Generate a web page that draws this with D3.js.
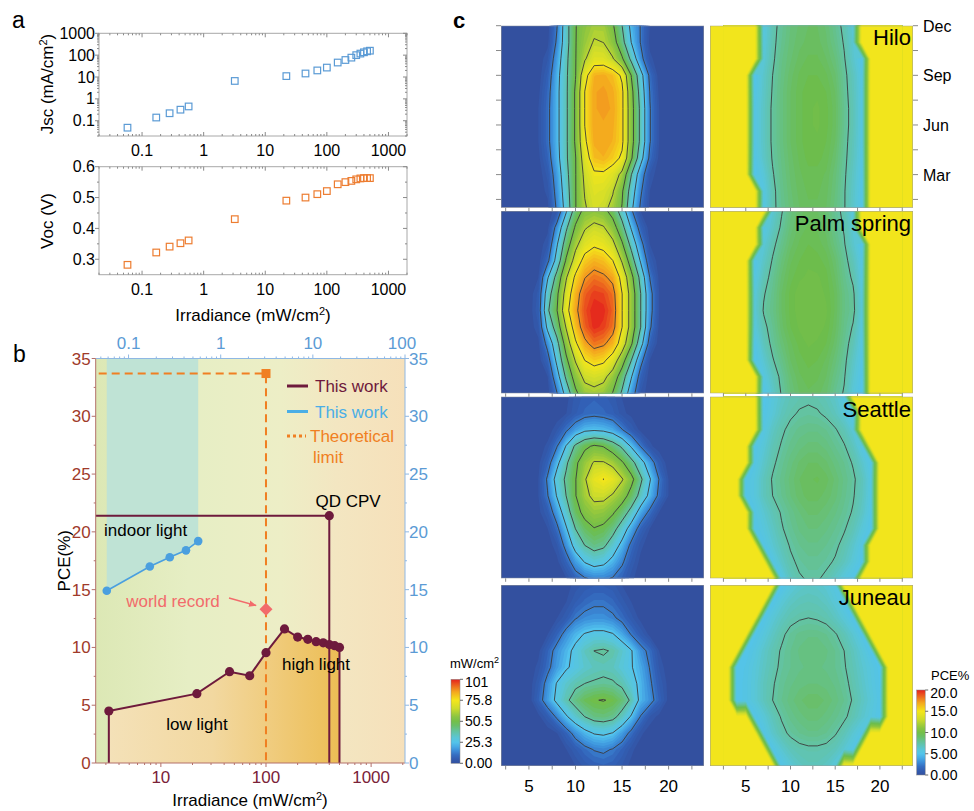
<!DOCTYPE html>
<html><head><meta charset="utf-8">
<script src="https://cdn.jsdelivr.net/npm/d3@7"></script>
<style>body{margin:0;background:#fff}svg{display:block}text{font-family:"Liberation Sans",Arial,Helvetica,sans-serif}</style>
</head><body><svg id="c" width="974" height="811"></svg>
<script>
// ================= DATA =================
// panel a
const irrA = [0.058,0.17,0.28,0.42,0.57,3.2,22,45,70,100,150,200,250,300,350,400,450,500];
const jscA = [0.048,0.14,0.22,0.32,0.45,6.6,11,14.5,20,27,46,60,77,100,118,135,150,160];
const vocA = [0.282,0.322,0.341,0.352,0.361,0.430,0.490,0.500,0.511,0.521,0.543,0.550,0.554,0.559,0.562,0.563,0.563,0.563];
const aXTicks = [0.1,1,10,100,1000];
const aJTicks = [0.1,1,10,100,1000];
const aVTicks = [0.3,0.4,0.5,0.6];
// panel b
const irrHigh = [3.2,22,45,70,100,150,200,250,300,350,400,450,500];
const pceHigh = [4.5,6.0,7.9,7.55,9.55,11.6,10.9,10.7,10.5,10.4,10.25,10.15,10.0];
const irrIndoor = [0.058,0.17,0.28,0.42,0.57];
const pceIndoor = [14.9,17.0,17.8,18.4,19.2];
const cpvPoint = [400,21.4];
const theoPoint = [100,33.7];
const recordPoint = [100,13.3];
const bBottomTicks = [10,100,1000];
const bTopTicks = [0.1,1,10,100];
const bYTicks = [0,5,10,15,20,25,30,35];
// panel c : rows = months Jan..Dec, columns = hours
const cHours = [3,4,5,6,7,8,9,10,11,12,13,14,15,16,17,18,19,20,21,22];
const cMonths = [1,2,3,4,5,6,7,8,9,10,11,12];
const monthTicks = [[3,"Mar"],[6,"Jun"],[9,"Sep"],[12,"Dec"]];
const hourTicks = [5,10,15,20];
const cities = ["Hilo","Palm spring","Seattle","Juneau"];
const hiloIrr = [
[0,0,0,0,1,14,30,50,62,68,66,60,50,28,11,1,0,0,0,0],
[0,0,0,0,3,16,32,50,64,70,69,64,52,32,14,2,0,0,0,0],
[0,0,0,0,5,18,34,50,66,74,74,70,60,38,18,4,0,0,0,0],
[0,0,0,1,8,21,36,50,70,82,84,80,74,52,30,10,1,0,0,0],
[0,0,0,2,10,22,36,52,74,85,86,84,78,55,35,13,2,0,0,0],
[0,0,0,2,10,22,36,52,76,86,86,85,78,55,35,13,2,0,0,0],
[0,0,0,2,10,22,36,52,76,86,87,86,78,55,35,13,2,0,0,0],
[0,0,0,1,9,22,36,52,76,86,87,85,78,54,33,12,1,0,0,0],
[0,0,0,0,7,21,36,50,72,84,85,82,74,50,30,10,0,0,0,0],
[0,0,0,0,4,18,35,50,62,70,70,64,52,35,16,3,0,0,0,0],
[0,0,0,0,1,14,33,50,58,64,63,56,42,25,12,1,0,0,0,0],
[0,0,0,0,0,12,33,50,56,60,60,52,38,22,12,2,0,0,0,0]];
const psIrr = [
[0,0,0,0,0,12,30,48,58,60,58,50,36,18,4,0,0,0,0,0],
[0,0,0,0,2,20,40,56,66,68,66,58,44,26,8,0,0,0,0,0],
[0,0,0,0,8,28,48,64,76,80,78,70,56,38,16,2,0,0,0,0],
[0,0,0,1,16,34,56,74,86,92,90,84,70,52,30,8,0,0,0,0],
[0,0,0,4,28,44,64,82,94,100,98,92,76,58,38,14,1,0,0,0],
[0,0,0,6,36,50,72,86,96,101,100,94,76,58,38,16,2,0,0,0],
[0,0,0,5,32,48,68,84,94,98,97,92,76,58,38,16,2,0,0,0],
[0,0,0,2,24,42,62,78,88,92,90,86,72,54,34,12,1,0,0,0],
[0,0,0,0,10,30,52,68,80,84,82,76,62,44,24,6,0,0,0,0],
[0,0,0,0,4,24,44,60,70,74,72,66,52,34,16,2,0,0,0,0],
[0,0,0,0,1,16,36,52,62,66,64,56,42,24,8,0,0,0,0,0],
[0,0,0,0,0,4,24,44,54,56,54,46,32,14,2,0,0,0,0,0]];
const seaIrr = [
[0,0,0,0,0,0,2,8,12,14,14,12,8,3,0,0,0,0,0,0],
[0,0,0,0,0,1,8,18,26,30,28,22,14,6,1,0,0,0,0,0],
[0,0,0,0,0,4,16,30,38,42,40,32,22,10,3,0,0,0,0,0],
[0,0,0,0,2,10,24,38,46,50,48,42,32,20,8,2,0,0,0,0],
[0,0,0,1,6,18,32,46,54,58,57,52,44,34,20,10,2,0,0,0],
[0,0,0,2,12,26,38,50,60,66,66,62,56,46,34,22,10,2,0,0],
[0,0,0,2,14,30,40,50,62,72,76,72,64,54,40,26,12,2,0,0],
[0,0,0,1,8,22,36,48,58,64,64,60,52,42,30,18,6,0,0,0],
[0,0,0,0,3,12,26,40,48,52,50,44,36,24,12,3,0,0,0,0],
[0,0,0,0,0,4,11,18,23,24,23,20,13,6,1,0,0,0,0,0],
[0,0,0,0,0,0,2,6,9,10,9,7,3,1,0,0,0,0,0,0],
[0,0,0,0,0,0,1,5,7,8,7,5,2,0,0,0,0,0,0,0]];
const junIrr = [
[0,0,0,0,0,0,0,2,5,7,8,7,4,1,0,0,0,0,0,0],
[0,0,0,0,0,0,2,6,10,13,14,12,8,3,0,0,0,0,0,0],
[0,0,0,0,0,2,8,16,22,26,27,25,18,10,3,0,0,0,0,0],
[0,0,0,1,6,14,24,32,38,42,43,41,34,24,12,4,1,0,0,0],
[0,0,0,8,18,28,36,42,47,50,51,49,44,36,22,16,8,1,0,0],
[0,0,0,6,16,26,32,36,38,39,40,39,36,30,22,14,6,1,0,0],
[0,0,0,3,10,18,24,28,32,34,35,34,30,26,20,12,4,0,0,0],
[0,0,0,1,8,16,22,28,34,38,39,37,32,26,16,10,2,0,0,0],
[0,0,0,0,2,8,16,22,26,28,28,26,20,12,6,1,0,0,0,0],
[0,0,0,0,0,2,6,12,15,16,16,14,10,5,1,0,0,0,0,0],
[0,0,0,0,0,0,2,6,9,11,11,9,5,2,0,0,0,0,0,0],
[0,0,0,0,0,0,1,3,5,6,6,5,2,0,0,0,0,0,0,0]];
const N = null; // no generation (night)
const hiloPce = [
[N,N,N,N,5.5,7.2,8.0,8.6,9.0,9.2,9.2,9.0,8.4,7.6,6.4,5.2,N,N,N,N],
[N,N,N,N,5.6,7.2,8.1,8.7,9.1,9.3,9.3,9.1,8.5,7.6,6.5,5.3,N,N,N,N],
[N,N,N,5.0,6.0,7.4,8.2,8.8,9.2,9.4,9.4,9.2,8.6,7.7,6.6,5.4,N,N,N,N],
[N,N,N,5.2,6.5,7.6,8.3,8.9,9.3,9.6,9.6,9.4,8.8,7.8,6.8,5.5,N,N,N,N],
[N,N,N,5.4,6.6,7.7,8.4,9.0,9.4,9.7,9.7,9.5,9.0,7.9,6.9,5.6,N,N,N,N],
[N,N,N,5.4,6.6,7.7,8.4,9.0,9.4,9.7,9.8,9.6,9.1,8.0,7.0,5.6,N,N,N,N],
[N,N,N,5.4,6.6,7.7,8.4,9.0,9.4,9.7,9.8,9.6,9.1,8.0,7.0,5.6,N,N,N,N],
[N,N,N,5.2,6.5,7.6,8.4,9.0,9.4,9.7,9.7,9.5,9.0,7.9,6.9,5.6,N,N,N,N],
[N,N,N,5.0,6.4,7.5,8.3,8.9,9.3,9.5,9.5,9.3,8.8,7.8,6.8,5.5,N,N,N,N],
[N,N,N,N,6.0,7.3,8.2,8.7,9.1,9.3,9.3,9.0,8.5,7.6,6.4,5.2,N,N,N,N],
[N,N,N,N,5.8,7.2,8.0,8.6,8.9,9.1,9.1,8.8,8.2,7.4,6.2,N,N,N,N,N],
[N,N,N,N,5.6,7.1,7.9,8.5,8.8,9.0,9.0,8.7,8.0,7.2,6.0,N,N,N,N,N]];
const psPce = [
[N,N,N,N,5.2,6.4,7.6,8.5,9.0,9.2,9.1,8.8,8.0,7.4,6.0,5.0,N,N,N,N],
[N,N,N,N,5.6,6.8,7.8,8.7,9.2,9.4,9.3,9.0,8.3,7.6,6.3,5.2,N,N,N,N],
[N,N,N,5.0,6.2,7.4,8.2,9.0,9.4,9.6,9.5,9.2,8.6,7.8,6.6,5.4,N,N,N,N],
[N,N,N,5.3,6.8,7.8,8.6,9.2,9.6,9.8,9.7,9.5,8.9,8.0,7.0,5.6,N,N,N,N],
[N,N,N,5.8,7.2,8.0,8.9,9.5,9.8,9.9,9.9,9.7,9.1,8.2,7.4,5.8,N,N,N,N],
[N,N,N,6.0,7.6,8.2,9.0,9.6,9.9,9.9,9.9,9.8,9.2,8.3,7.8,6.0,N,N,N,N],
[N,N,N,5.9,7.4,8.1,9.0,9.6,9.9,9.9,9.9,9.7,9.2,8.3,7.7,5.9,N,N,N,N],
[N,N,N,5.5,7.0,7.9,8.8,9.4,9.7,9.8,9.8,9.6,9.0,8.1,7.3,5.7,N,N,N,N],
[N,N,N,5.2,6.5,7.6,8.5,9.2,9.5,9.7,9.6,9.4,8.8,7.9,6.9,5.5,N,N,N,N],
[N,N,N,N,6.0,7.2,8.1,8.9,9.3,9.5,9.4,9.1,8.4,7.6,6.4,5.2,N,N,N,N],
[N,N,N,N,5.4,6.6,7.7,8.6,9.1,9.3,9.2,8.9,8.1,7.4,6.1,N,N,N,N,N],
[N,N,N,N,N,6.2,7.4,8.4,8.9,9.1,9.0,8.7,7.9,7.2,5.8,N,N,N,N,N]];
const seaPce = [
[N,N,N,N,N,N,5.5,6.8,7.4,7.6,7.6,7.3,6.6,5.8,5.2,N,N,N,N,N],
[N,N,N,N,N,5.4,6.5,7.3,7.7,7.9,7.9,7.7,7.4,6.8,6.0,5.2,N,N,N,N],
[N,N,N,N,5.3,6.2,7.0,7.6,8.0,8.2,8.2,8.0,7.7,7.2,6.4,5.4,N,N,N,N],
[N,N,N,5.2,5.8,6.6,7.4,7.9,8.3,8.5,8.5,8.3,8.0,7.6,7.0,6.0,5.2,N,N,N],
[N,N,N,5.4,6.2,7.0,7.6,8.1,8.5,8.8,8.8,8.6,8.3,7.9,7.4,6.6,5.4,N,N,N],
[N,N,5.2,5.8,6.8,7.5,8.0,8.5,8.9,9.1,9.1,8.9,8.6,8.1,7.6,6.8,5.6,N,N,N],
[N,N,5.2,5.8,6.8,7.6,8.1,8.6,9.0,9.2,9.3,9.1,8.7,8.2,7.7,6.9,5.6,N,N,N],
[N,N,N,5.4,6.4,7.3,7.9,8.4,8.8,9.0,9.0,8.8,8.4,8.0,7.4,6.4,5.3,N,N,N],
[N,N,N,5.2,6.0,7.0,7.6,8.1,8.4,8.6,8.6,8.4,8.0,7.6,6.8,5.5,N,N,N,N],
[N,N,N,N,5.5,6.6,7.3,7.8,8.1,8.2,8.2,8.0,7.6,7.0,6.0,N,N,N,N,N],
[N,N,N,N,5.2,6.0,6.8,7.3,7.6,7.7,7.6,7.3,6.8,6.0,5.2,N,N,N,N,N],
[N,N,N,N,5.0,5.8,6.5,7.0,7.2,7.3,7.2,6.9,6.4,5.6,N,N,N,N,N,N]];
const junPce = [
[N,N,N,N,N,N,5.2,6.0,6.6,6.9,6.9,6.6,5.8,N,N,N,N,N,N,N],
[N,N,N,N,N,5.3,6.2,6.9,7.2,7.3,7.3,7.2,6.9,6.2,5.4,N,N,N,N,N],
[N,N,N,N,5.4,6.4,7.2,7.7,8.0,8.2,8.2,8.0,7.6,7.0,6.2,5.4,N,N,N,N],
[N,N,N,5.2,6.0,6.9,7.6,8.1,8.4,8.6,8.6,8.4,8.1,7.7,7.1,6.4,5.8,5.2,N,N],
[N,5.0,5.4,6.0,6.8,7.5,8.0,8.4,8.7,8.9,8.9,8.7,8.4,8.0,7.4,6.7,6.0,5.3,N,N],
[N,5.0,5.4,6.0,6.8,7.4,7.9,8.2,8.4,8.5,8.5,8.4,8.2,7.8,7.2,6.5,5.8,5.2,N,N],
[N,5.0,5.3,5.9,6.6,7.2,7.7,8.0,8.2,8.3,8.3,8.2,8.0,7.6,7.0,6.3,5.7,5.1,N,N],
[N,N,5.0,5.6,6.4,7.1,7.6,8.0,8.3,8.5,8.5,8.3,8.0,7.5,6.8,6.0,5.2,N,N,N],
[N,N,N,5.1,5.8,6.6,7.3,7.8,8.1,8.2,8.2,8.0,7.6,7.0,6.2,5.3,N,N,N,N],
[N,N,N,N,5.2,6.0,6.7,7.2,7.4,7.5,7.4,7.2,6.7,6.0,5.2,N,N,N,N,N],
[N,N,N,N,N,5.2,6.0,6.6,6.9,7.0,6.9,6.6,6.0,5.2,N,N,N,N,N,N],
[N,N,N,N,N,N,5.0,5.8,6.3,6.5,6.4,6.1,5.5,N,N,N,N,N,N,N]];
const irrGrids = [hiloIrr, psIrr, seaIrr, junIrr];
const pceGrids = [hiloPce, psPce, seaPce, junPce];
const irrBarTicks = [0,25.3,50.5,75.8,101];
const irrBarLabels = ["0.00","25.3","50.5","75.8","101"];
const pceBarTicks = [0,5,10,15,20];
const pceBarLabels = ["0.00","5.00","10.0","15.0","20.0"];

// ================= DRAWING =================
const svg = d3.select("#c");
const defs = svg.append("defs");
function txt(x, y, s, size, opts = {}) {
  const t = svg.append("text").attr("x", x).attr("y", y).attr("font-size", size)
    .attr("fill", opts.fill || "#000").attr("text-anchor", opts.anchor || "start");
  if (opts.weight) t.attr("font-weight", opts.weight);
  t.text(s); return t;
}
function irrTitle(cx, y, size) {
  const t = svg.append("text").attr("x", cx).attr("y", y).attr("font-size", size).attr("text-anchor", "middle");
  t.append("tspan").text("Irradiance (mW/cm");
  t.append("tspan").attr("font-size", size * 0.65).attr("dy", -size * 0.38).text("2");
  t.append("tspan").attr("dy", size * 0.38).text(")");
}
function minorLog(lo, hi) {
  const out = [];
  for (let e = -3; e <= 4; e++) for (let k = 2; k < 10; k++) { const v = k * Math.pow(10, e); if (v >= lo && v <= hi) out.push(v); }
  return out;
}
function tickMarks(g, scale, vals, orient, pos, len, color) {
  vals.forEach(v => {
    const p = scale(v);
    const l = g.append("line").attr("stroke", color).attr("stroke-width", 1);
    if (orient === "h") l.attr("x1", p).attr("x2", p).attr("y1", pos).attr("y2", pos + len);
    else l.attr("y1", p).attr("y2", p).attr("x1", pos).attr("x2", pos + len);
  });
}

// ---------- panel a ----------
txt(12, 28, "a", 23);
const ax = d3.scaleLog().domain([0.02, 2000]).range([99, 407]);
const ayJ = d3.scaleLog().domain([0.02, 1000]).range([136, 33.3]);
const ayV = d3.scaleLinear().domain([0.25, 0.6]).range([274.7, 166.7]);
function frameA(y, yTicks, yMinor, yFmt) {
  const [b, t] = y.range(), [l, r] = ax.range();
  const g = svg.append("g");
  g.append("rect").attr("x", l).attr("y", t).attr("width", r - l).attr("height", b - t)
    .attr("fill", "none").attr("stroke", "#a8a8a8").attr("stroke-width", 1);
  const tc = "#8a8a8a";
  tickMarks(g, ax, aXTicks, "h", b, -4, tc); tickMarks(g, ax, aXTicks, "h", t, 4, tc);
  tickMarks(g, ax, minorLog(0.02, 2000), "h", b, -2, tc); tickMarks(g, ax, minorLog(0.02, 2000), "h", t, 2, tc);
  tickMarks(g, y, yTicks, "v", l, -4, tc); tickMarks(g, y, yTicks, "v", r, -4, tc);
  tickMarks(g, y, yMinor, "v", l, -2, tc); tickMarks(g, y, yMinor, "v", r, -2, tc);
  aXTicks.forEach(v => txt(ax(v), b + 20, String(v), 16, { anchor: "middle" }));
  yTicks.forEach(v => txt(l - 4, y(v) + 5.5, yFmt(v), 16, { anchor: "end" }));
}
frameA(ayJ, aJTicks, minorLog(0.02, 1000), d => String(d));
frameA(ayV, aVTicks, [0.35, 0.45, 0.55], d => d.toFixed(1));
svg.append("g").selectAll("rect").data(irrA).join("rect")
  .attr("x", (d) => ax(d) - 3.3).attr("y", (d, i) => ayJ(jscA[i]) - 3.3).attr("width", 6.6).attr("height", 6.6)
  .attr("fill", "none").attr("stroke", "#5b9bd5").attr("stroke-width", 1.2);
svg.append("g").selectAll("rect").data(irrA).join("rect")
  .attr("x", (d) => ax(d) - 3.3).attr("y", (d, i) => ayV(vocA[i]) - 3.3).attr("width", 6.6).attr("height", 6.6)
  .attr("fill", "none").attr("stroke", "#ed7d31").attr("stroke-width", 1.2);
(function () {
  const t = svg.append("text").attr("transform", "translate(53,84) rotate(-90)").attr("font-size", 17).attr("text-anchor", "middle");
  t.append("tspan").text("Jsc (mA/cm"); t.append("tspan").attr("font-size", 11).attr("dy", -6).text("2"); t.append("tspan").attr("dy", 6).text(")");
  svg.append("text").attr("transform", "translate(53,221) rotate(-90)").attr("font-size", 17).attr("text-anchor", "middle").text("Voc (V)");
})();
irrTitle(253, 321, 17);

// ---------- panel b ----------
txt(13, 362, "b", 23);
const bx = d3.scaleLog().domain([2.4, 2100]).range([95.7, 405]);
const bxT = d3.scaleLog().domain([0.044, 100]).range([95.7, 405]);
const by = d3.scaleLinear().domain([0, 35]).range([763, 358.5]);
const BL = 95.7, BR = 405, BT = 358.5, BB = 763;
const maroon = "#6e1a3c", bBlue = "#4a9fdf", orange = "#f07f22", pink = "#f26b6b";
const gBg = defs.append("linearGradient").attr("id", "bbg").attr("x1", 0).attr("x2", 1).attr("y1", 0).attr("y2", 0);
[[0, "#dce8b5"], [0.3, "#e6eec4"], [0.6, "#edeec6"], [0.78, "#f3e6c1"], [1, "#f6e0ba"]].forEach(s => gBg.append("stop").attr("offset", s[0]).attr("stop-color", s[1]));
const gOr = defs.append("linearGradient").attr("id", "bor").attr("gradientUnits", "userSpaceOnUse")
  .attr("x1", bx(3.2)).attr("x2", bx(500)).attr("y1", 0).attr("y2", 0);
[[0, "#f4e1b8"], [0.45, "#f2d8a0"], [0.7, "#f0cc7e"], [1, "#ecbe55"]].forEach(s => gOr.append("stop").attr("offset", s[0]).attr("stop-color", s[1]));
svg.append("rect").attr("x", BL).attr("y", BT).attr("width", BR - BL).attr("height", BB - BT).attr("fill", "url(#bbg)");
// indoor teal region (above blue curve)
svg.append("path").datum(irrIndoor).attr("fill", "#bfe3d5")
  .attr("d", d3.area().x(d => bxT(d)).y0(BT).y1((d, i) => by(pceIndoor[i])));
// high light orange region (under maroon curve)
svg.append("path").datum(irrHigh).attr("fill", "url(#bor)")
  .attr("d", d3.area().x(d => bx(d)).y0(BB).y1((d, i) => by(pceHigh[i])));
// theoretical limit
svg.append("path").attr("fill", "none").attr("stroke", orange).attr("stroke-width", 2).attr("stroke-dasharray", "8,5")
  .attr("d", `M${BL + 3},${by(theoPoint[1])}H${bx(theoPoint[0])}V${BB}`);
svg.append("rect").attr("x", bx(theoPoint[0]) - 4.5).attr("y", by(theoPoint[1]) - 4.5).attr("width", 9).attr("height", 9).attr("fill", orange);
// QD CPV
svg.append("path").attr("fill", "none").attr("stroke", maroon).attr("stroke-width", 2)
  .attr("d", `M${BL},${by(cpvPoint[1])}H${bx(cpvPoint[0])}V${BB}`);
svg.append("circle").attr("cx", bx(cpvPoint[0])).attr("cy", by(cpvPoint[1])).attr("r", 4.6).attr("fill", maroon);
// this work (high light)
svg.append("path").attr("fill", "none").attr("stroke", maroon).attr("stroke-width", 2)
  .attr("d", `M${bx(irrHigh[0])},${BB}V${by(pceHigh[0])}` + d3.line().x(d => bx(d)).y((d, i) => by(pceHigh[i]))(irrHigh).replace(/^M/, "L") + `V${BB}`);
svg.append("g").selectAll("circle").data(irrHigh).join("circle")
  .attr("cx", d => bx(d)).attr("cy", (d, i) => by(pceHigh[i])).attr("r", 4.6).attr("fill", maroon);
// this work (indoor)
svg.append("path").datum(irrIndoor).attr("fill", "none").attr("stroke", bBlue).attr("stroke-width", 1.6)
  .attr("d", d3.line().x(d => bxT(d)).y((d, i) => by(pceIndoor[i])));
svg.append("g").selectAll("circle").data(irrIndoor).join("circle")
  .attr("cx", d => bxT(d)).attr("cy", (d, i) => by(pceIndoor[i])).attr("r", 4.3).attr("fill", bBlue);
// world record
svg.append("path").attr("fill", pink)
  .attr("d", `M${bx(recordPoint[0])},${by(recordPoint[1]) - 6.5}l6.5,6.5l-6.5,6.5l-6.5,-6.5z`);
defs.append("marker").attr("id", "arr").attr("viewBox", "0 0 10 10").attr("refX", 9).attr("refY", 5)
  .attr("markerWidth", 6).attr("markerHeight", 6).attr("orient", "auto")
  .append("path").attr("d", "M0,1L10,5L0,9z").attr("fill", pink);
svg.append("line").attr("x1", 229).attr("y1", 598).attr("x2", 256).attr("y2", 605.5)
  .attr("stroke", pink).attr("stroke-width", 1.3).attr("marker-end", "url(#arr)");
txt(173, 607, "world record", 17, { fill: pink, anchor: "middle" });
txt(104, 536, "indoor light", 17);
txt(197, 730, "low light", 17, { anchor: "middle" });
txt(282, 670, "high light", 17);
txt(348, 507, "QD CPV", 17, { anchor: "middle" });
// legend
svg.append("line").attr("x1", 287).attr("x2", 308).attr("y1", 386).attr("y2", 386).attr("stroke", maroon).attr("stroke-width", 3);
txt(315, 392, "This work", 17, { fill: maroon });
svg.append("line").attr("x1", 287).attr("x2", 308).attr("y1", 411.5).attr("y2", 411.5).attr("stroke", "#4aaee6").attr("stroke-width", 3);
txt(315, 417.5, "This work", 17, { fill: "#4aaee6" });
svg.append("line").attr("x1", 287).attr("x2", 306).attr("y1", 436).attr("y2", 436).attr("stroke", orange).attr("stroke-width", 3).attr("stroke-dasharray", "3,3");
txt(310, 442, "Theoretical", 17, { fill: orange });
txt(313, 463, "limit", 17, { fill: orange });
// axes b
(function () {
  const g = svg.append("g");
  const lc = "#a03a2a", bc = "#7a2238", rc = "#5b9bd5";
  g.append("line").attr("x1", BL).attr("x2", BL).attr("y1", BT).attr("y2", BB).attr("stroke", "#b3706a");
  g.append("line").attr("x1", BL).attr("x2", BR).attr("y1", BB).attr("y2", BB).attr("stroke", "#b3706a");
  g.append("line").attr("x1", BR).attr("x2", BR).attr("y1", BT).attr("y2", BB).attr("stroke", "#8fb8e4");
  g.append("line").attr("x1", BL).attr("x2", BR).attr("y1", BT).attr("y2", BT).attr("stroke", "#8fb8e4");
  tickMarks(g, by, bYTicks, "v", BL, -4, "#b3706a");
  tickMarks(g, by, [2.5, 7.5, 12.5, 17.5, 22.5, 27.5, 32.5], "v", BL, -2, "#b3706a");
  tickMarks(g, by, bYTicks, "v", BR, 4, "#8fb8e4");
  tickMarks(g, by, [2.5, 7.5, 12.5, 17.5, 22.5, 27.5, 32.5], "v", BR, 2, "#8fb8e4");
  tickMarks(g, bx, bBottomTicks, "h", BB, 4, "#b3706a");
  tickMarks(g, bx, minorLog(2.4, 2100), "h", BB, 2, "#b3706a");
  tickMarks(g, bxT, bTopTicks, "h", BT, -4, "#8fb8e4");
  tickMarks(g, bxT, minorLog(0.044, 100), "h", BT, -2, "#8fb8e4");
  bYTicks.forEach(v => txt(BL - 5, by(v) + 6, String(v), 17, { fill: lc, anchor: "end" }));
  bYTicks.forEach(v => txt(BR + 4, by(v) + 6, String(v), 17, { fill: rc }));
  bBottomTicks.forEach(v => txt(bx(v), 783, String(v), 17, { fill: bc, anchor: "middle" }));
  bTopTicks.forEach(v => txt(bxT(v) - (v === 100 ? 3 : 0), 349, String(v), 17, { fill: rc, anchor: "middle" }));
  svg.append("text").attr("transform", `translate(70,${(BT + BB) / 2}) rotate(-90)`).attr("font-size", 17).attr("text-anchor", "middle").text("PCE(%)");
  irrTitle(250, 806, 17);
})();

// ---------- panel c ----------
txt(453, 28, "c", 22, { weight: "bold" });
const cm = d3.scaleLinear()
  .domain([0, 0.08, 0.16, 0.24, 0.3, 0.38, 0.48, 0.56, 0.66, 0.75, 0.86, 1])
  .range(["#33509f", "#3262b8", "#3d92dc", "#52c3ee", "#59c6d8", "#63c3a2", "#6cbd4c", "#8cc540", "#d2dd2a", "#f4e61b", "#f4a11f", "#e4211d"])
  .clamp(true);
const colL = [501, 704], colR = [710, 913];
const rowsY = [[25.7, 207.7], [211, 393.3], [396.7, 578.3], [585, 766]];
const xL = d3.scaleLinear().domain([2, 23.8]).range(colL);
const xR = d3.scaleLinear().domain([1, 23.7]).range(colR);
const nH = cHours.length, nM = cMonths.length;
let clipN = 0;
function heat(values, xs, ys, vmax, step, tMin, tMax, lineLevels, lineValues, bg) {
  const [x0, x1] = xs.range(), [y0, y1] = ys.range();
  const id = "cl" + (clipN++);
  defs.append("clipPath").attr("id", id).append("rect").attr("x", x0).attr("y", y1).attr("width", x1 - x0).attr("height", y0 - y1);
  const proj = d3.geoTransform({ point(px, py) { this.stream.point(xs(cHours[0] + px - 0.5), ys(cMonths[0] + py - 0.5)); } });
  const path = d3.geoPath(proj);
  const g = svg.append("g").attr("clip-path", `url(#${id})`);
  g.append("rect").attr("x", x0).attr("y", y1).attr("width", x1 - x0).attr("height", y0 - y1).attr("fill", bg);
  const th = d3.range(tMin, tMax, step);
  g.selectAll("path.f").data(d3.contours().size([nH, nM]).thresholds(th)(values)).join("path")
    .attr("class", "f").attr("d", path).attr("fill", d => cm((d.value + step / 2) / vmax));
  g.selectAll("path.l").data(d3.contours().size([nH, nM]).thresholds(lineLevels)(lineValues)).join("path")
    .attr("class", "l").attr("d", path).attr("fill", "none").attr("stroke", "#3b3b3b").attr("stroke-width", 0.9);
  g.append("rect").attr("x", x0).attr("y", y1).attr("width", x1 - x0).attr("height", y0 - y1)
    .attr("fill", "none").attr("stroke", "#9a9a9a").attr("stroke-width", 1);
}
const NIGHT_FILL = 15;
rowsY.forEach((ry, k) => {
  const ys = d3.scaleLinear().domain([1, 12]).range([ry[1], ry[0]]);
  const iv = irrGrids[k].flat();
  heat(iv, xL, ys, 101, 101 / 48, 101 / 48, 101, [12.6, 25.3, 37.9, 50.5, 63.1, 75.8, 88.4], iv, cm(0));
  const pv = pceGrids[k].flat();
  const pFill = pv.map(v => v === null ? NIGHT_FILL : v);
  const pLine = pv.map(v => v === null ? 0 : v);
  heat(pFill, xR, ys, 20, 0.25, 4, 15, [7.5], pLine, cm((15 - 0.125) / 20));
  // bottom ticks
  const g = svg.append("g");
  const ht = [2.5, 5, 7.5, 10, 12.5, 15, 17.5, 20, 22.5];
  tickMarks(g, xL, ht, "h", ry[1], 3.5, "#8a8a8a");
  tickMarks(g, xR, ht, "h", ry[1], 3.5, "#8a8a8a");
  txt(911, ry[0] + (k === 0 ? 19 : 20), cities[k], 22, { anchor: "end" });
  if (k === 0) {
    const mt = [1.5, 3, 4.5, 6, 7.5, 9, 10.5, 12];
    tickMarks(g, ys, mt, "v", colR[1], 5, "#8a8a8a");
    tickMarks(g, ys, mt, "v", colL[0], -5, "#8a8a8a");
    monthTicks.forEach(m => txt(923, ys(m[0]) + 6, m[1], 16));
  }
  if (k === 3) {
    hourTicks.forEach(h => { txt(xL(h), 792, String(h), 17, { anchor: "middle" }); txt(xR(h), 792, String(h), 17, { anchor: "middle" }); });
  }
});
// colorbars
function colorbar(id, x, yTop, yBot, w, ticks, labels, vmax, title, tx, ty) {
  const gr = defs.append("linearGradient").attr("id", id).attr("x1", 0).attr("x2", 0).attr("y1", 1).attr("y2", 0);
  d3.range(0, 1.0001, 0.05).forEach(t => gr.append("stop").attr("offset", t).attr("stop-color", cm(t)));
  svg.append("rect").attr("x", x).attr("y", yTop).attr("width", w).attr("height", yBot - yTop).attr("fill", `url(#${id})`).attr("stroke", "#888").attr("stroke-width", 0.5);
  const s = d3.scaleLinear().domain([0, vmax]).range([yBot, yTop]);
  ticks.forEach((v, i) => {
    svg.append("line").attr("x1", x + w).attr("x2", x + w + 3).attr("y1", s(v)).attr("y2", s(v)).attr("stroke", "#666");
    txt(x + w + 5, Math.max(s(v) + 5, yTop + 8) , labels[i], 14);
  });
  const t = svg.append("text").attr("x", tx).attr("y", ty).attr("font-size", 13);
  if (title === "irr") { t.append("tspan").text("mW/cm"); t.append("tspan").attr("font-size", 9).attr("dy", -5).text("2"); }
  else t.text("PCE%");
}
colorbar("cbi", 451, 679.3, 763.3, 9, irrBarTicks, irrBarLabels, 101, "irr", 450, 668);
colorbar("cbp", 916.7, 690, 775, 8.5, pceBarTicks, pceBarLabels, 20, "pce", 931, 680);
</script></body></html>
